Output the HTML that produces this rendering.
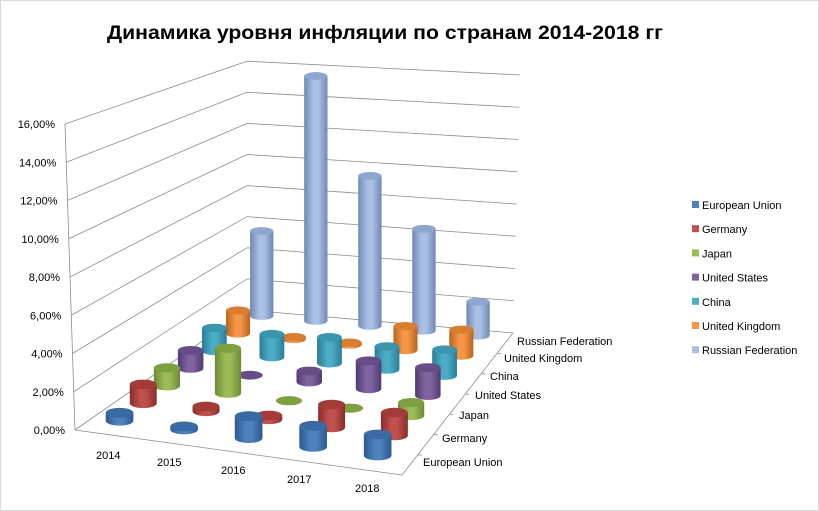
<!DOCTYPE html>
<html><head><meta charset="utf-8"><style>
html,body{margin:0;padding:0;background:#fff}
svg{display:block}
text{font-family:"Liberation Sans","DejaVu Sans",sans-serif}
</style></head><body>
<svg id="s" width="819" height="511" xmlns="http://www.w3.org/2000/svg">
<rect x="0.5" y="0.5" width="818" height="510" fill="#fff" stroke="#d9d9d9"/>
<text x="385" y="39" text-anchor="middle" font-weight="bold" font-size="19" textLength="556" lengthAdjust="spacingAndGlyphs" fill="#000" style="font-family:'Liberation Sans','Noto Sans CJK SC',sans-serif">Динамика уровня инфляции по странам 2014-2018 гг</text>
</svg>
<script>
var s=document.getElementById('s'),NS='http://www.w3.org/2000/svg';
function el(t,a,txt){var e=document.createElementNS(NS,t);for(var k in a)e.setAttribute(k,a[k]);if(txt!=null)e.textContent=txt;s.appendChild(e);return e;}
var FL=[75,430],FR=[402,475],BR=[513,333],BL=[247,310];
function P(u,v){var f=[FL[0]+u*(FR[0]-FL[0]),FL[1]+u*(FR[1]-FL[1])],b=[BL[0]+u*(BR[0]-BL[0]),BL[1]+u*(BR[1]-BL[1])];return [f[0]+v*(b[0]-f[0]),f[1]+v*(b[1]-f[1])];}
for(var k=0;k<=8;k++){
 var lx=75-k*1.25,ly=430-k*38.25,bx=247,by=310-k*31.1,rx=513+k*0.9,ry=333-k*32.25;
 el('line',{x1:lx,y1:ly,x2:bx,y2:by,stroke:'#8c8c8c','stroke-width':0.8});
 el('line',{x1:bx,y1:by,x2:rx,y2:ry,stroke:'#8c8c8c','stroke-width':0.8});
 var lab=(k*2).toFixed(2).replace('.',',')+'%';
 el('text',{x:lx-10,y:ly+4,'font-size':11,'text-anchor':'end',fill:'#000'},lab);
}
el('line',{x1:75,y1:430,x2:65,y2:124,stroke:'#8c8c8c','stroke-width':0.8});
el('line',{x1:FL[0],y1:FL[1],x2:FR[0],y2:FR[1],stroke:'#8c8c8c','stroke-width':0.8});
el('line',{x1:FR[0],y1:FR[1],x2:BR[0],y2:BR[1],stroke:'#8c8c8c','stroke-width':0.8});
for(var j=1;j<7;j++){var p=P(1,j/7);el('line',{x1:p[0],y1:p[1],x2:p[0]+4,y2:p[1]+0.5,stroke:'#8c8c8c','stroke-width':0.8});}
var yrs=[[107,459,'2014'],[168,466,'2015'],[232,474,'2016'],[298,483,'2017'],[366,492,'2018']];
yrs.forEach(function(a){el('text',{x:a[0]-11,y:a[1],'font-size':11,fill:'#000'},a[2]);});
var cn=['European Union','Germany','Japan','United States','China','United Kingdom','Russian Federation'];
var cl=[[423,466],[442,442],[459,419],[475,399],[490,380],[504,362],[517,345]];
cn.forEach(function(n,i){el('text',{x:cl[i][0],y:cl[i][1],'font-size':11,fill:'#000'},n);});
var H=[[8,3,22,21,21],[19,5,4,23,23],[18,45,0,0,13],[18,0,11,28,28],[23,23,26,23,26],[23,2,2,24,26],[85,245,150,102,34]];
var C=[['#4f81bd','#2c5a8f','#3a6aa3'],['#c0504d','#8a2c2a','#a33c39'],['#9bbb59','#6b8a32','#7fa040'],['#8064a2','#4f3a6e','#664d88'],['#4bacc6','#2a7d94','#3a95ad'],['#f79646','#b8651e','#d97d30'],['#a9c0e4','#7288b3','#8fa6cf']];
var defs=el('defs',{});
C.forEach(function(c,i){
 var g=document.createElementNS(NS,'linearGradient');g.setAttribute('id','g'+i);
 [[0,c[1]],[0.4,c[0]],[0.6,c[0]],[1,c[1]]].forEach(function(st){var e=document.createElementNS(NS,'stop');e.setAttribute('offset',st[0]);e.setAttribute('stop-color',st[1]);g.appendChild(e);});
 defs.appendChild(g);
});
for(var j=6;j>=0;j--){for(var i=0;i<5;i++){
 var v=(j+0.5)/7,u=(i+0.5)/5,p=P(u,v),w=28-5*v,r=w/2,ry=5-1.2*v,h=H[j][i],c=C[j];
 var x=p[0],y=p[1]-5;
 if(h>0){
  el('path',{d:'M'+(x-r)+','+(y-h)+' L'+(x-r)+','+y+' A'+r+','+ry+' 0 0 0 '+(x+r)+','+y+' L'+(x+r)+','+(y-h)+' Z',fill:'url(#g'+j+')'});
 }
 el('ellipse',{cx:x,cy:y-h,rx:r,ry:ry,fill:c[2]});
}}
cn.forEach(function(n,i){var y=205+i*24.2;el('rect',{x:692,y:y-4,width:7,height:7,fill:C[i][0]});el('text',{x:702,y:y+4,'font-size':11,fill:'#000'},n);});
</script>
</body></html>
